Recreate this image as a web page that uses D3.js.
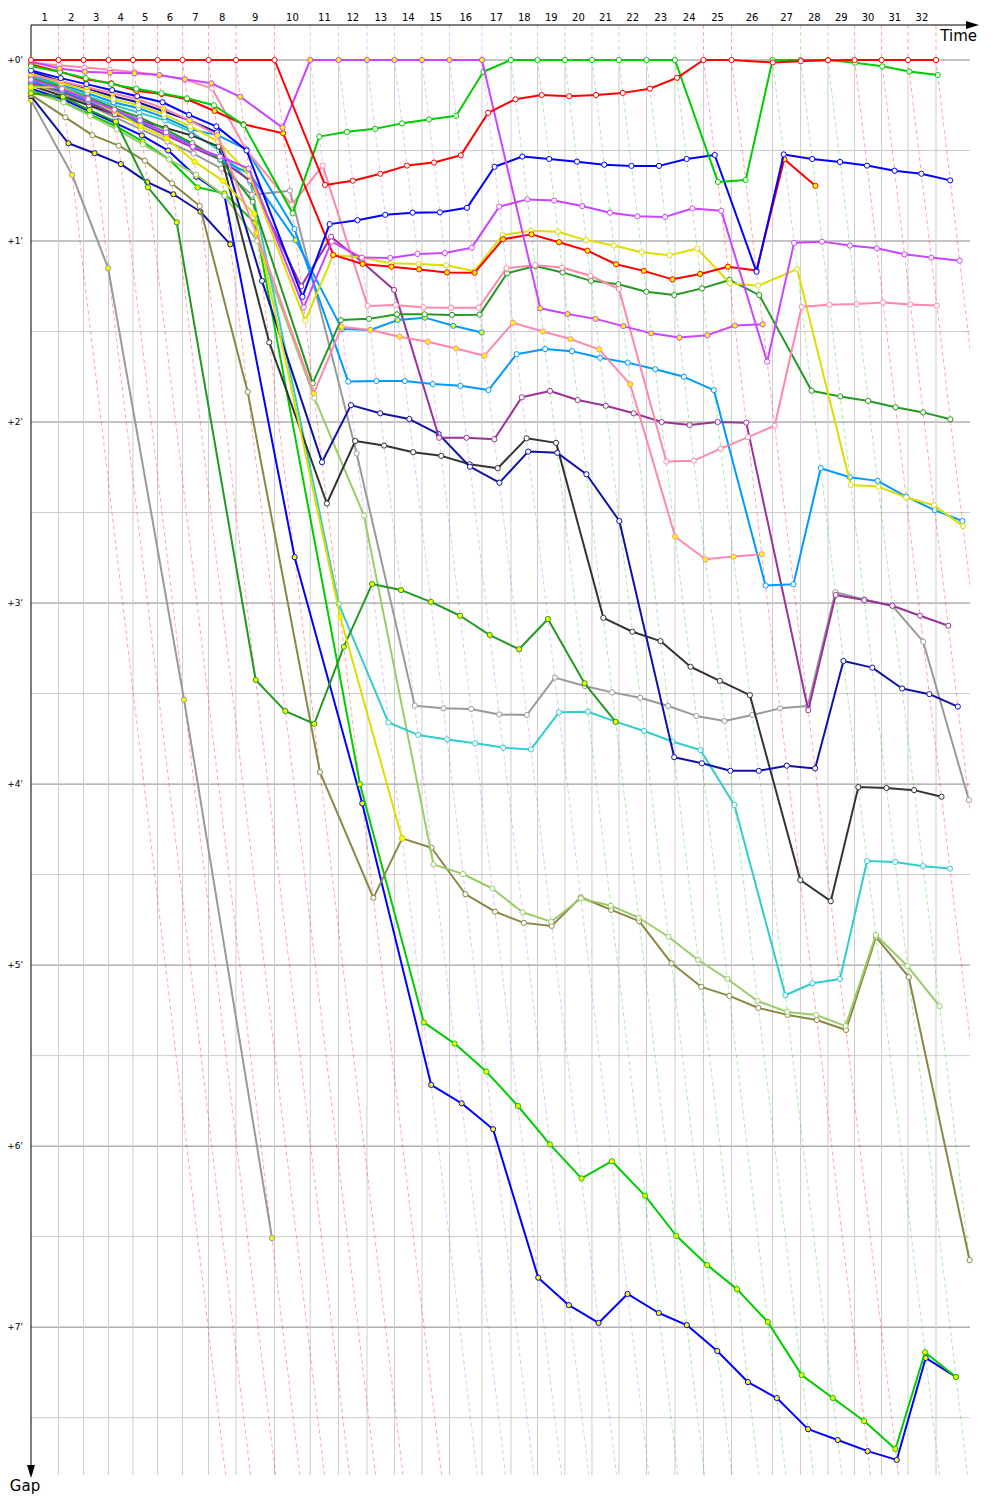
<!DOCTYPE html>
<html>
<head>
<meta charset="utf-8">
<script src="https://cdn.jsdelivr.net/npm/d3@7"></script>
<style>
body { margin: 0; background: #fff; }
svg { display: block; font-family: "DejaVu Sans", Verdana, sans-serif; }
</style>
</head>
<body>
<script>
// leader lap times, seconds (lap 1..32)
var leaderLaps = [77.5, 70.2, 70.2, 68.5, 69.1, 70.2, 73.0, 77.0, 108.4, 100.3, 79.5, 79.8, 77.5, 77.0, 77.5, 91.0,
                  81.5, 74.7, 77.0, 75.8, 75.8, 77.5, 79.8, 80.3, 78.7, 115.2, 78.7, 77.0, 74.7, 75.8, 74.2, 78.7];
var gapTicks = [0, 1, 2, 3, 4, 5, 6, 7]; // minutes

// gaps to leader in seconds, index = lap (0 = grid)
var redA = [0, 0,0,0,0,0,0,0,0,0, 41.4, 40, 37.7, 35, 34, 31.6, 17.5, 13, 11.6, 12, 11.6, 10.9, 9.5, 5.9, 0, 0, 0.8, 0.4, 0.1, 0, 0, 0, 0];
var redB = [1.5, 3.9, 6.4, 7.7, 10.2, 11.3, 13, 16.9, 21.3, 24.3, 64.6, 67.6, 68.5, 69.4, 70.4, 70.5, 59.4, 57.8, 60.4, 63.2, 67.7, 69.9, 72.7, 70.9, 68.5, 69.8, 32.9, 41.7];
var greenA = [2, 4, 6, 8, 9.5, 11, 12.7, 15, 21.5, 50.8, 25.4, 23.8, 22.8, 21, 19.7, 18.5, 3.9, 0, 0, 0, 0, 0, 0, 0, 40.4, 39.8, 0, 0, 0, 0.9, 2.1, 3.8, 5];
var greenB = [10, 14, 18, 22, 27, 33, 42.2, 44.2, 54, 240, 319, 326, 335.3, 346.7, 359.4, 370.7, 365, 376.4, 389.7, 399.4, 407.4, 418.3, 435.9, 443.5, 451.1, 460.4, 428.3, 436.5];
var blueA = [3.5, 6, 8, 10, 12, 14, 18.2, 22, 30, 78.5, 54.4, 53.1, 51.3, 50.6, 50.5, 49, 35.4, 32, 32.8, 33.7, 34.7, 35.1, 35.1, 32.8, 31.5, 70.2, 31.3, 32.8, 33.8, 35, 36.7, 37.7, 39.9];
var blueB = [9.5, 13, 17, 21, 25, 30, 38.7, 45, 164.8, 246.4, 339.7, 345.8, 354.4, 403.6, 412.7, 418.6, 409, 415.3, 419.3, 427.9, 438.2, 443.5, 453.8, 457.4, 461.1, 464, 430.2, 436.5];
var magentaA = [6.5, 9.5, 13, 16.5, 20, 24, 28.7, 32, 36, 82, 60.2, 65.5, 65.6, 64.3, 64, 62.2, 48.6, 46.2, 46.6, 48.4, 50.6, 51.8, 52, 49.2, 50, 100, 60.6, 60.2, 61.5, 62.4, 64.4, 65.5, 66.5];
var magentaB = [0.5, 2.8, 3.9, 4.2, 4.4, 5, 6.4, 7.7, 12.2, 22.4, 0, 0, 0, 0, 0, 0, 0, 82.3, 84.2, 85.8, 88.2, 90.6, 92, 91.2, 88, 87.6];
var pinkA = [1, 1.7, 2.5, 3.2, 4, 5, 6.5, 9.4, 30, 48, 35, 81.5, 81.2, 82, 82.1, 82.1, 69, 68, 68.8, 71.5, 75.9, 133.1, 132.8, 128.8, 125, 121.2, 81.8, 81.1, 80.9, 80.4, 81, 81.4];
var pinkB = [5, 7, 9, 11, 13, 16, 20, 25, 57.4, 110.5, 88.4, 89.5, 91.7, 93.4, 95.6, 98, 87.1, 90, 92.5, 95.9, 107.5, 158, 165.5, 164.6, 163.8];
var yellowA = [4.5, 7.7, 10, 13, 15, 18, 22, 27, 38, 86.4, 64.6, 65.5, 67.4, 67.6, 68, 70, 58, 56.6, 56.9, 59.7, 61.5, 63.7, 64.7, 62.5, 74, 74.8, 69.3, 140.9, 141.4, 145, 147.6, 154.5];
var yellowB = [9, 9, 13, 17, 22, 26, 33.7, 40, 51, 184.5, 258];
var forestA = [6, 9, 12.5, 16, 19, 23, 27.6, 33, 47, 107.2, 86.2, 85.8, 84.3, 84.3, 84.5, 84.4, 70.7, 68.3, 70.4, 73.2, 74.3, 76.8, 77.9, 75.7, 72.9, 77.9, 109.6, 111.5, 113, 115.1, 116.8, 119.1];
var forestB = [11, 12.2, 16.6, 20.4, 42.2, 53.8, 205.5, 215.8, 220, 194.5, 173.7, 175.7, 179.6, 184.2, 190.6, 195.3, 185.3, 206.6, 219.4];
var skyA = [5, 8, 11, 14, 16, 19, 23, 24.9, 29.6, 56, 106.6, 106.4, 106.4, 107.4, 108, 109.4, 97.5, 95.8, 96.5, 98.7, 100.3, 102.5, 105, 109.4, 174.2, 173.8, 135.3, 138.3, 139.5, 144.7, 149.2, 152.8];
var skyB = [7, 10, 13.5, 17, 20.5, 24, 28, 33, 37.6, 59.7, 89.2, 89.5, 86.2, 85.4, 88.1, 90.3];
var purpleA = [7.5, 10.5, 14, 18, 21, 25, 29, 33, 40, 75, 58.6, 67, 76.2, 125.2, 125.2, 125.7, 111.8, 109.7, 112.7, 114.6, 117.1, 120, 121, 120, 120.2, 215.5, 177.3, 179, 180.9, 184.2, 187.5];
var navyA = [4, 7, 9.5, 12, 14, 17, 20, 24, 73.2, 133.3, 114.4, 117.1, 119, 124, 134.8, 140.1, 129.8, 130.2, 137.3, 152.8, 231.1, 233.1, 235.6, 235.6, 233.9, 234.8, 199.2, 201.4, 208.3, 210.2, 214.3];
var navyB = [12, 27.6, 30.9, 34.5, 40.5, 44.5, 50.3, 61.1];
var blackA = [8.5, 12, 15, 18, 20, 22.5, 25, 28.7, 93.6, 147, 126.3, 127.8, 130, 131.2, 134, 135.3, 125.4, 126.9, 184.9, 189.5, 192.6, 201.1, 205.8, 210.5, 271.8, 278.8, 241, 241.3, 242, 244.2];
var grayA = [8, 11, 15, 19, 23, 27, 31, 36, 44.7, 43.3, 130.4, 214, 214.9, 215.1, 216.9, 217.1, 204.7, 207.5, 209.6, 211.4, 214.1, 217.4, 219.1, 217.1, 214.9, 214.1, 176.4, 178.8, 180.9, 192.8, 245.3];
var grayB = [13.3, 38.1, 69, 212, 390.5];
var cyanA = [5.5, 8.5, 12, 15, 17.5, 20, 23.8, 30, 40.7, 180.3, 219.6, 223.7, 225.2, 226.5, 227.9, 228.5, 216.2, 216, 219.3, 222.4, 225.9, 228.7, 246.9, 310, 306, 304.6, 265.5, 265.8, 267.2, 268];
var limeA = [10.5, 14, 18.5, 23, 28, 33, 38, 45, 60, 112, 151, 266.6, 269.8, 274.6, 282.5, 285.6, 277.9, 280.3, 284.3, 290.6, 298.3, 304.6, 311.9, 315.5, 316.5, 320.2, 290, 300.3, 313.6];
var oliveA = [11.5, 19, 24.9, 28.4, 33.4, 40.9, 48.4, 110, 236, 277.7, 258, 261.1, 276.5, 282.3, 286, 287, 277.5, 281.7, 285.4, 299.4, 307.2, 310.2, 314.2, 316.5, 318.2, 321.5, 290.7, 304, 397.8];

var series = [
  {g: grayB, c: "#999999", f: "#ffff00"},
  {g: navyB, c: "#1111aa", f: "#ffff00"},
  {g: blueB, c: "#0000ff", f: "#ffff00"},
  {g: greenB, c: "#00cc00", f: "#ffff00"},
  {g: oliveA, c: "#888844", f: "#ffffff"},
  {g: limeA, c: "#99cc66", f: "#ffffff"},
  {g: cyanA, c: "#33cccc", f: "#ffffff"},
  {g: grayA, c: "#999999", f: "#ffffff"},
  {g: blackA, c: "#333333", f: "#ffffff"},
  {g: navyA, c: "#1111aa", f: "#ffffff"},
  {g: purpleA, c: "#993399", f: "#ffffff"},
  {g: forestB, c: "#229922", f: "#ffff00"},
  {g: skyB, c: "#0099ff", f: "#ffff00"},
  {g: skyA, c: "#0099ff", f: "#ffffff"},
  {g: forestA, c: "#229922", f: "#ffffff"},
  {g: yellowB, c: "#dddd00", f: "#ffff00"},
  {g: yellowA, c: "#dddd00", f: "#ffffff"},
  {g: pinkB, c: "#ff88aa", f: "#ffff00"},
  {g: pinkA, c: "#ff88aa", f: "#ffffff"},
  {g: redB, c: "#ff0000", f: "#ffff00"},
  {g: magentaA, c: "#cc44ff", f: "#ffffff"},
  {g: blueA, c: "#0000ff", f: "#ffffff"},
  {g: greenA, c: "#00cc00", f: "#ffffff"},
  {g: magentaB, c: "#cc44ff", f: "#ffff00"},
  {g: redA, c: "#ff0000", f: "#ffffff"}
];

var svgW = 1000;
var svgH = 1500;

var leaderTime = [0];
leaderLaps.forEach(function(t, i){ leaderTime.push(leaderTime[i] + t); });
var nLaps = leaderLaps.length;

var xScale = d3.scaleLinear().domain([0, 2650]).range([31, 31 + 2650 * 0.356]);
var yScale = d3.scaleLinear().domain([0, 469]).range([60, 1475]);
var xRight = 970;
var yTop = 25;

var svg = d3.select("body").append("svg")
    .attr("width", svgW)
    .attr("height", svgH);

svg.append("clipPath").attr("id", "plotClip")
    .append("rect")
    .attr("x", xScale(0)).attr("y", 0)
    .attr("width", xRight - xScale(0)).attr("height", yScale(469));

// horizontal grid, every 30 s
var halfMinutes = d3.range(0, 451, 30);
svg.append("g").selectAll("line")
    .data(halfMinutes)
    .enter().append("line")
    .attr("x1", xScale(0)).attr("x2", xRight)
    .attr("y1", function(d){ return yScale(d); })
    .attr("y2", function(d){ return yScale(d); })
    .attr("stroke", function(d){ return d % 60 === 0 ? "#888888" : "#cccccc"; })
    .attr("stroke-width", 1);

// vertical grid at the leader's crossing times
svg.append("g").selectAll("line")
    .data(leaderTime.slice(1))
    .enter().append("line")
    .attr("x1", function(d){ return xScale(d); })
    .attr("x2", function(d){ return xScale(d); })
    .attr("y1", yScale(0)).attr("y2", yScale(469))
    .attr("stroke", "#cccccc")
    .attr("stroke-width", 1);

// lap lines, coloured by the leader of that lap
function leaderColour(lap){
  var best = null, bestGap = Infinity;
  series.forEach(function(s){
    if (s.g.length > lap && s.g[lap] < bestGap) { bestGap = s.g[lap]; best = s; }
  });
  return best ? best.c : "#ff0000";
}
var lapIdx = d3.range(1, nLaps + 1);
svg.append("g").attr("clip-path", "url(#plotClip)")
    .selectAll("path")
    .data(lapIdx)
    .enter().append("path")
    .attr("d", function(n){
      var t = leaderTime[n];
      return "M" + xScale(t) + "," + yTop + "L" + xScale(t) + "," + yScale(0) +
             "L" + xScale(t + 469) + "," + yScale(469);
    })
    .attr("fill", "none")
    .attr("stroke", function(n){ return leaderColour(n); })
    .attr("stroke-opacity", 0.35)
    .attr("stroke-width", 1)
    .attr("stroke-dasharray", "4,3");

// axes
svg.append("line").attr("x1", xScale(0)).attr("x2", 968).attr("y1", yTop).attr("y2", yTop)
    .attr("stroke", "#000").attr("stroke-width", 1);
svg.append("path").attr("d", "M966,21L979,25L966,29Z").attr("fill", "#000");
svg.append("line").attr("x1", xScale(0)).attr("x2", xScale(0)).attr("y1", yTop).attr("y2", 1468)
    .attr("stroke", "#000").attr("stroke-width", 1);
svg.append("path").attr("d", "M" + (xScale(0) - 4) + ",1465L" + xScale(0) + ",1478L" + (xScale(0) + 4) + ",1465Z").attr("fill", "#000");

svg.append("text").attr("x", 977).attr("y", 41).attr("text-anchor", "end")
    .attr("font-size", 15).text("Time");
svg.append("text").attr("x", 25).attr("y", 1491).attr("text-anchor", "middle")
    .attr("font-size", 15).text("Gap");

// lap numbers, centred inside each lap
svg.append("g").selectAll("text")
    .data(lapIdx)
    .enter().append("text")
    .attr("x", function(n){ return (xScale(leaderTime[n - 1]) + xScale(leaderTime[n])) / 2; })
    .attr("y", 21)
    .attr("text-anchor", "middle")
    .attr("font-size", 10)
    .text(function(n){ return n; });

// gap labels
svg.append("g").selectAll("text")
    .data(gapTicks)
    .enter().append("text")
    .attr("x", 23)
    .attr("y", function(d){ return yScale(d * 60) + 3; })
    .attr("text-anchor", "end")
    .attr("font-size", 9)
    .text(function(d){ return "+" + d + "'"; });

// drivers
function pointX(gap, lap){ return xScale(lap === 0 ? 0 : leaderTime[lap] + gap); }
var line = d3.line()
    .x(function(d, i){ return pointX(d, i); })
    .y(function(d){ return yScale(d); });

series.forEach(function(s){
  var g = svg.append("g");
  g.append("path")
    .attr("d", line(s.g))
    .attr("fill", "none")
    .attr("stroke", s.c)
    .attr("stroke-width", 2)
    .attr("stroke-linejoin", "round");
  g.selectAll("circle")
    .data(s.g)
    .enter().append("circle")
    .attr("cx", function(d, i){ return pointX(d, i); })
    .attr("cy", function(d){ return yScale(d); })
    .attr("r", 2.6)
    .attr("fill", s.f)
    .attr("stroke", s.c)
    .attr("stroke-width", 1);
});
</script>
</body>
</html>
